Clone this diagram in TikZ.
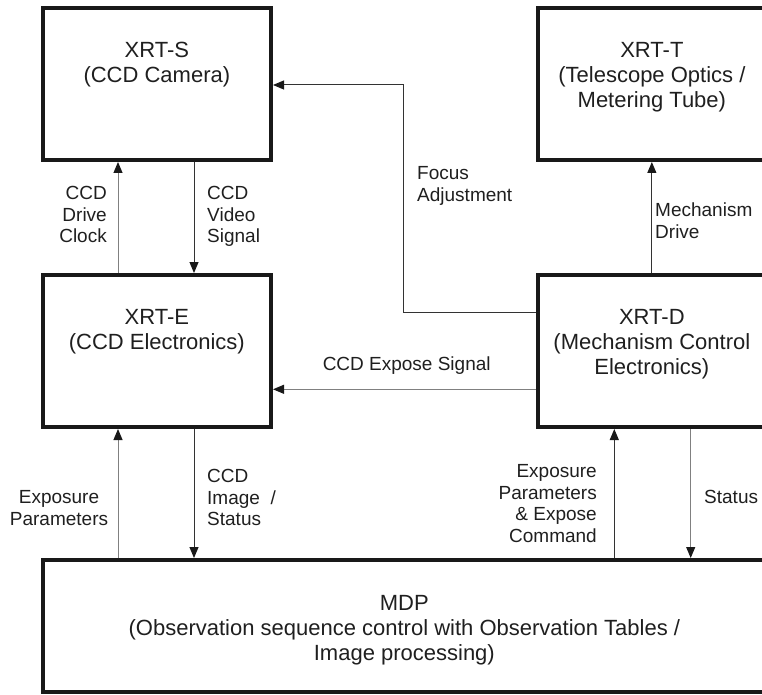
\documentclass[tikz,border=0pt]{standalone}
\usepackage{fontspec}
\setmainfont{Liberation Sans}
\usetikzlibrary{arrows.meta}
\begin{document}
\begin{tikzpicture}[x=1pt,y=1pt,
  blk/.style={draw=black!90, line width=4pt, rectangle, inner sep=0pt, minimum width=228.3pt, minimum height=152pt},
  blktext/.style={font=\fontsize{22}{25}\selectfont, align=center, anchor=north, inner sep=0pt, text=black!88},
  lbl/.style={font=\fontsize{19}{21.5}\selectfont, inner sep=0pt, text=black!88},
  conn/.style={draw=black!80, line width=1pt, -{Triangle[length=11pt,width=9pt,color=black!90]}},
  conng/.style={conn, draw=black!50},
]
\useasboundingbox (0,0) rectangle (762,-695);
\clip (0,0) rectangle (762,-695);

% blocks
\node[blk] (s) at (156.85,-84) {};
\node[blk] (t) at (651.85,-84) {};
\node[blk] (e) at (156.85,-351) {};
\node[blk] (d) at (651.85,-351) {};
\node[blk, minimum width=723.3pt, minimum height=132pt] (m) at (404.35,-626) {};

% block texts
\node[blktext] (st) at ([yshift=-36pt]s.north) {XRT-S\\(CCD Camera)};
\node[blktext] (tt) at ([yshift=-36pt]t.north) {XRT-T\\(Telescope Optics /\\Metering Tube)};
\node[blktext] (et) at ([yshift=-36pt]e.north) {XRT-E\\(CCD Electronics)};
\node[blktext] (dt) at ([yshift=-36pt]d.north) {XRT-D\\(Mechanism Control\\Electronics)};
\node[blktext] (mt) at ([yshift=-37pt]m.north) {MDP\\(Observation sequence control with Observation Tables /\\Image processing)};

% helper coordinates
\coordinate (xa) at (118,0);
\coordinate (xb) at (194,0);
\coordinate (xc) at (614.3,0);
\coordinate (xd) at (690.7,0);
\coordinate (f1) at (403.7,-312.3);
\coordinate (f2) at (403.7,-85);
\coordinate (ye) at (0,-389.3);

% connectors
\draw[conng] (e.north -| xa) -- (s.south -| xa);
\draw[conn] (s.south -| xb) -- (e.north -| xb);
\draw[conn] (d.north) -- (t.south);
\draw[conn] (d.west |- f1) -- (f1) -- (f2) -- (s.east |- f2);
\draw[conng] (d.west |- ye) -- (e.east |- ye);
\draw[conng] (m.north -| xa) -- (e.south -| xa);
\draw[conn] (e.south -| xb) -- (m.north -| xb);
\draw[conn] (m.north -| xc) -- (d.south -| xc);
\draw[conng] (d.south -| xd) -- (m.north -| xd);

% labels
\node[lbl, align=right, anchor=north east] (l1) at (107,-186.4) {CCD\\Drive\\Clock};
\node[lbl, align=left, anchor=north west] (l2) at (207,-186.4) {CCD\\Video\\Signal};
\node[lbl, align=left, anchor=north west] (l3) at (417,-166.4) {Focus\\Adjustment};
\node[lbl, align=left, anchor=north west] (l4) at (655,-203) {Mechanism\\Drive};
\node[lbl, anchor=base] (l5) at (406.7,-370) {CCD Expose Signal};
\node[lbl, align=center, anchor=north] (l6) at (59,-490.4) {Exposure\\Parameters};
\node[lbl, align=left, anchor=north west] (l7) at (207,-469.4) {CCD\\Image\ \ /\\Status};
\node[lbl, align=right, anchor=north east] (l8) at (597,-464.4) {Exposure\\Parameters\\\& Expose\\Command};
\node[lbl, anchor=north west] (l9) at (704,-490.4) {Status};
\end{tikzpicture}
\end{document}
